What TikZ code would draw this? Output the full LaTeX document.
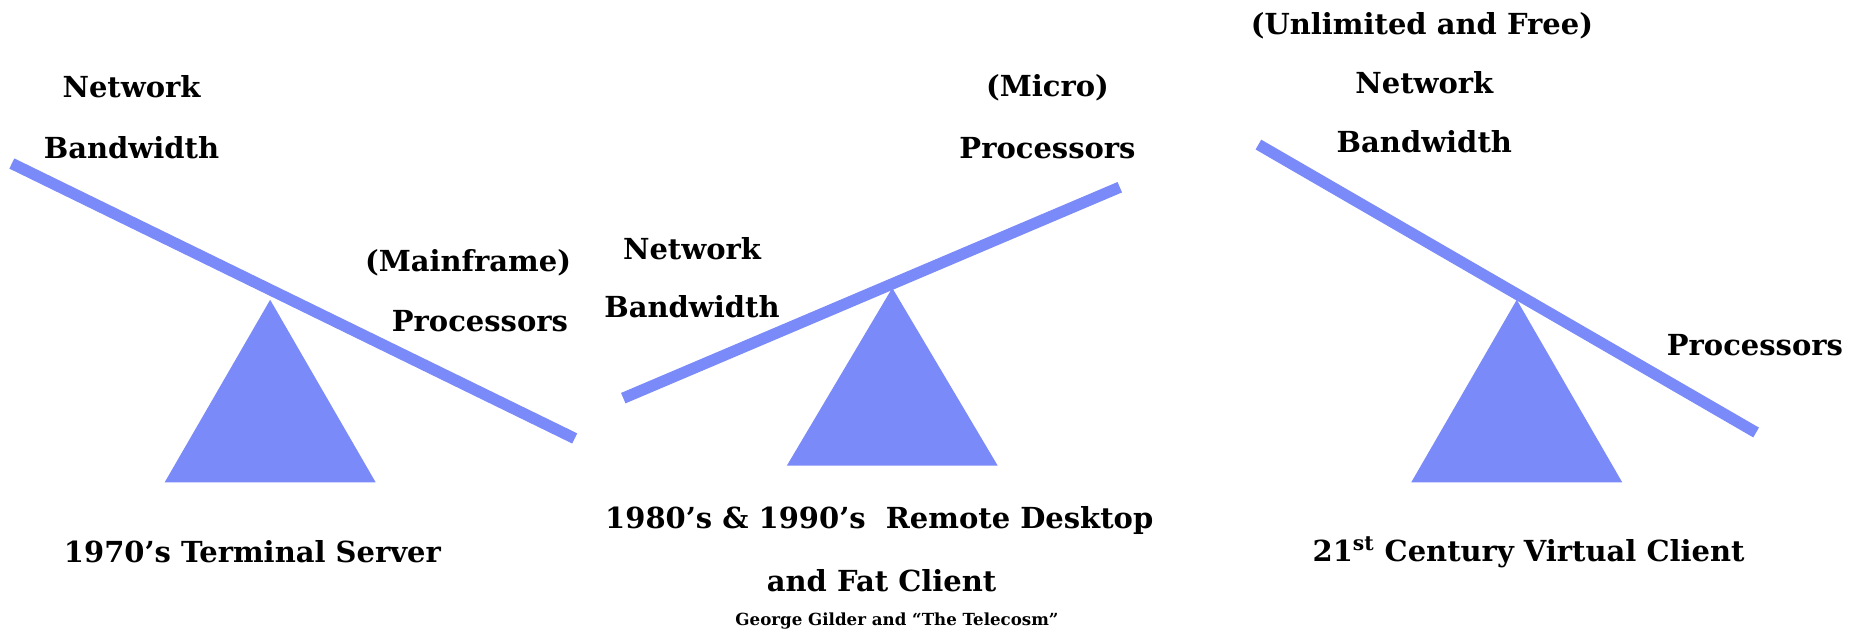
\documentclass[tikz,border=0pt]{standalone}
\usepackage{fontspec}
\setmainfont{DejaVu Serif}
\definecolor{seesaw}{RGB}{122,138,248}
\tikzset{
  beam/.style={draw=seesaw, line width=6.8pt},
  fulcrum/.style={fill=seesaw},
  lbl/.style={font=\fontsize{17.4}{20}\selectfont\bfseries, inner sep=0pt},
  note/.style={font=\fontsize{10}{12}\selectfont\bfseries, inner sep=0pt}
}
\begin{document}
\begin{tikzpicture}[x=0.25mm,y=-0.25mm]

\useasboundingbox (0,0) rectangle (1568,537);

\coordinate (B1) at (10,138);
\coordinate (E1) at (485,370);
\coordinate (B2) at (526,336);
\coordinate (E2) at (945,158);
\coordinate (B3) at (1062,122);
\coordinate (E3) at (1482,365);

\coordinate (T1) at (228,253);
\coordinate (L1) at (139,407);
\coordinate (R1) at (317,407);
\coordinate (T2) at (753,243);
\coordinate (L2) at (664,393);
\coordinate (R2) at (842,393);
\coordinate (T3) at (1280,253);
\coordinate (L3) at (1191,407);
\coordinate (R3) at (1369,407);

\foreach \i in {1,2,3}
{
  \fill[fulcrum] (T\i) -- (R\i) -- (L\i) -- cycle;
}

\foreach \i in {1,2,3}
{
  \draw[beam] (B\i) -- (E\i);
}

\node[lbl] (net1) at (111,73) {Network};
\node[lbl] (bw1) at (111,125) {Bandwidth};
\node[lbl] (main1) at (395,222) {(Mainframe)};
\node[lbl] (proc1) at (405,271) {Processors};

\node[lbl] (micro2) at (884,74) {(Micro)};
\node[lbl] (proc2) at (884,125) {Processors};
\node[lbl] (net2) at (584,210) {Network};
\node[lbl] (bw2) at (584,259) {Bandwidth};

\node[lbl] (free3) at (1200,22) {(Unlimited and Free)};
\node[lbl] (net3) at (1202,70) {Network};
\node[lbl] (bw3) at (1202,120) {Bandwidth};
\node[lbl] (proc3) at (1481,291) {Processors};

\node[lbl] (era1) at (213,466) {1970’s Terminal Server};
\node[lbl] (era2) at (742,439) {1980’s \& 1990’s\ \ Remote Desktop};
\node[lbl] (era2b) at (744,490) {and Fat Client};
\node[note] (src) at (757,524) {George Gilder and “The Telecosm”};
\node[lbl] (era3) at (1290,466) {21\textsuperscript{st} Century Virtual Client};

\end{tikzpicture}
\end{document}
